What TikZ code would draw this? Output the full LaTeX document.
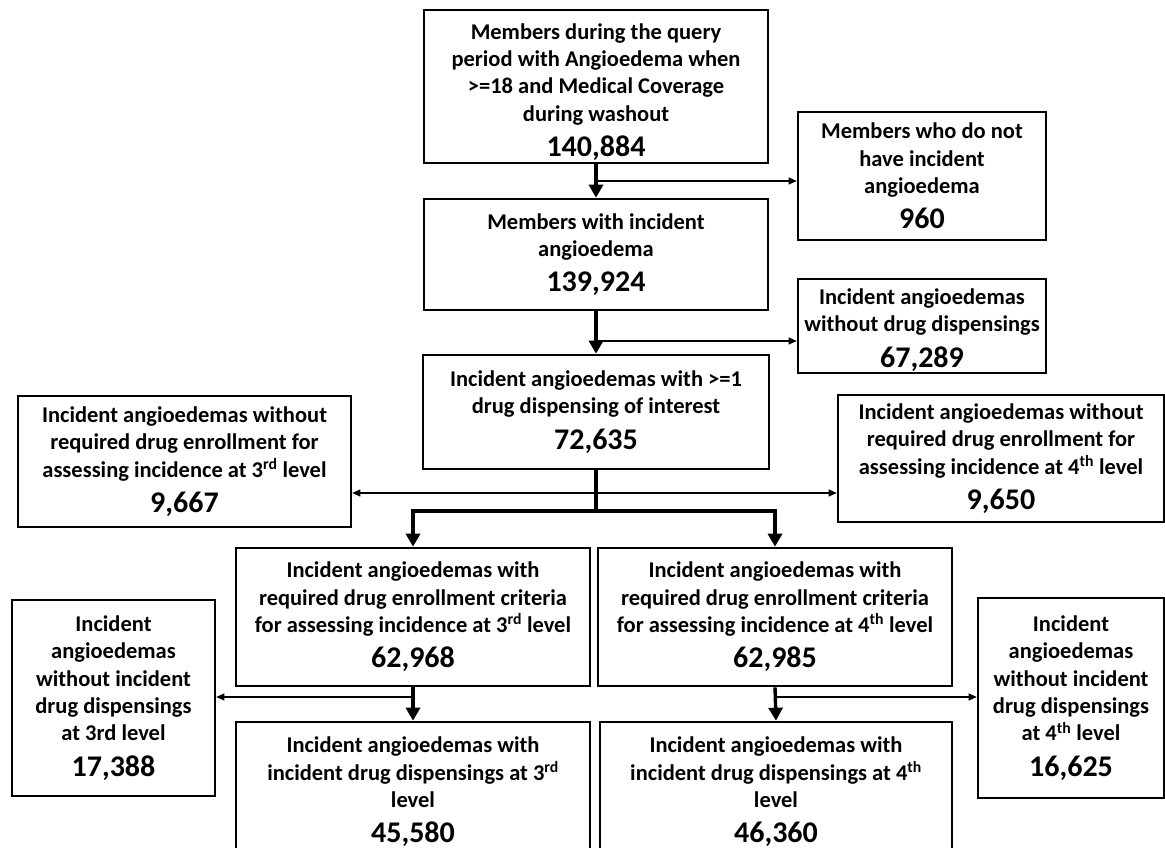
\documentclass[tikz,border=0pt]{standalone}
\usepackage{fontspec}
\setmainfont{Carlito}
\usetikzlibrary{arrows.meta}
\newcommand{\cnt}[1]{\\[8pt]{\fontsize{30}{31}\selectfont #1}}
\newcommand{\ord}[1]{\textsuperscript{#1}}
% extra room above the first line pushes a box's text block down
\newcommand{\topgap}[1]{\rule{0pt}{#1}}
\begin{document}
\begin{tikzpicture}[x=1pt,y=-1pt,
  box/.style={draw=black,line width=2.6pt,inner sep=0pt,align=center,
    font=\bfseries\fontsize{22.5}{27.3}\selectfont,text=black},
  mainflow/.style={line width=3.4pt,-{Triangle[length=13pt,width=14pt]}},
  sideflow/.style={line width=1.1pt,-{Triangle[length=8pt,width=7pt]}},
  trunk/.style={line width=3.4pt}]
\useasboundingbox (0,0) rectangle (1165,848);
\clip (0,0) rectangle (1165,848);

% boxes: centre, width, height
\node[box,minimum width=344pt,minimum height=153pt] (b1) at (596,86.5)
  {\topgap{27pt}Members during the query\\period with Angioedema when\\>=18 and Medical Coverage\\during washout\cnt{140,884}};
\node[box,minimum width=248pt,minimum height=128pt] (b2) at (922,176)
  {Members who do not\\have incident\\angioedema\cnt{960}};
\node[box,minimum width=344pt,minimum height=111pt] (b3) at (596,254.5)
  {Members with incident\\angioedema\cnt{139,924}};
\node[box,minimum width=248pt,minimum height=94pt] (b4) at (922,326)
  {\topgap{24pt}Incident angioedemas\\without drug dispensings\cnt{67,289}};
\node[box,minimum width=346pt,minimum height=114pt] (b5) at (596,412)
  {Incident angioedemas with >=1\\drug dispensing of interest\cnt{72,635}};
\node[box,minimum width=333pt,minimum height=131pt] (b6) at (184.5,461.5)
  {Incident angioedemas without\\required drug enrollment for\\assessing incidence at 3\ord{rd} level\cnt{9,667}};
\node[box,minimum width=326pt,minimum height=127pt] (b7) at (1001,458.5)
  {Incident angioedemas without\\required drug enrollment for\\assessing incidence at 4\ord{th} level\cnt{9,650}};
\node[box,minimum width=354pt,minimum height=138pt] (b8) at (413,617)
  {Incident angioedemas with\\required drug enrollment criteria\\for assessing incidence at 3\ord{rd} level\cnt{62,968}};
\node[box,minimum width=354pt,minimum height=138pt] (b9) at (775,617)
  {Incident angioedemas with\\required drug enrollment criteria\\for assessing incidence at 4\ord{th} level\cnt{62,985}};
\node[box,minimum width=203pt,minimum height=196pt] (b10) at (113.5,698)
  {Incident\\angioedemas\\without incident\\drug dispensings\\at 3rd level\cnt{17,388}};
\node[box,minimum width=186pt,minimum height=200pt] (b11) at (1071,698)
  {Incident\\angioedemas\\without incident\\drug dispensings\\at 4\ord{th} level\cnt{16,625}};
\node[box,minimum width=354pt,minimum height=140pt] (b12) at (413,792)
  {Incident angioedemas with\\incident drug dispensings at 3\ord{rd}\\level\cnt{45,580}};
\node[box,minimum width=352pt,minimum height=140pt] (b13) at (776,792)
  {Incident angioedemas with\\incident drug dispensings at 4\ord{th}\\level\cnt{46,360}};

% branch points on the main flow
\coordinate (j1) at (596,181);
\coordinate (j2) at (596,341);
\coordinate (j3) at (596,493);
\coordinate (j4) at (596,511);
\coordinate (j5) at (413,697);
\coordinate (j6) at (775,697);

% exclusions
\draw[sideflow] (j1) -- (j1 -| b2.west);
\draw[sideflow] (j2) -- (j2 -| b4.west);
\draw[sideflow] (j3) -- (j3 -| b6.east);
\draw[sideflow] (j3) -- (j3 -| b7.west);
\draw[sideflow] (j5) -- (j5 -| b10.east);
\draw[sideflow] (j6) -- (j6 -| b11.west);

% main flow
\draw[mainflow] (b1.south) -- (b3.north);
\draw[mainflow] (b3.south) -- (b5.north);
\draw[trunk] (b5.south) -- (j4);
\draw[mainflow] (j4) -| (b8.north);
\draw[mainflow] (j4) -| (b9.north);
\draw[mainflow] (b8.south) -- (b12.north);
\draw[mainflow] (b9.south) -- (b13.north);
\end{tikzpicture}
\end{document}
